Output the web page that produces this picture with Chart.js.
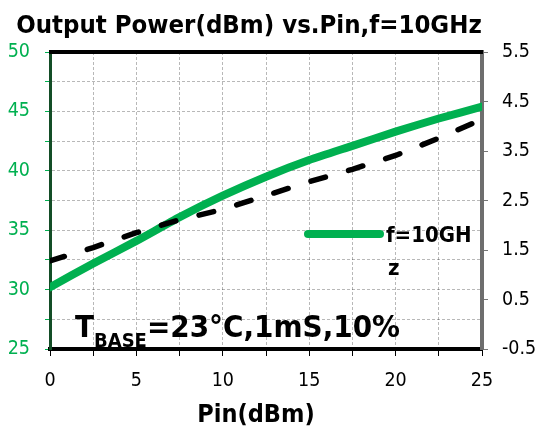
<!DOCTYPE html>
<html>
<head>
<meta charset="utf-8">
<script src="https://cdn.jsdelivr.net/npm/chart.js@4/dist/chart.umd.min.js"></script>
<style>
  html, body { margin: 0; padding: 0; background: #fff; }
</style>
</head>
<body>
<canvas id="chart" width="542" height="430"></canvas>
<script>
// data
const pin = [0, 2.5, 5, 7.5, 10, 12.5, 15, 17.5, 20, 22.5, 25];
const pout10GHz = [30.2, 32.2, 34.1, 36.1, 37.9, 39.5, 40.9, 42.1, 43.3, 44.4, 45.4];
const rightSeries = [1.28, 1.55, 1.85, 2.11, 2.32, 2.6, 2.88, 3.13, 3.41, 3.76, 4.14];

const xTickLabels = [0, 5, 10, 15, 20, 25];
const leftTickLabels = [25, 30, 35, 40, 45, 50];
const rightTickLabels = [-0.5, 0.5, 1.5, 2.5, 3.5, 4.5, 5.5];

const titleText = 'Output Power(dBm) vs.Pin,f=10GHz';
const xTitle = 'Pin(dBm)';
const seriesLabel = 'f=10GHz';

const FONT = '"DejaVu Sans Condensed", "DejaVu Sans", sans-serif';
const GREEN = '#00B050';
const GRID = 'rgba(0,0,0,0.28)';

// title, axis title, top frame, note and legend
const overlay = {
  id: 'overlay',
  afterDraw(chart) {
    const { ctx, chartArea: a } = chart;
    ctx.save();
    ctx.strokeStyle = '#000';
    ctx.lineWidth = 4;
    ctx.beginPath();
    ctx.moveTo(a.left - 1, a.top);
    ctx.lineTo(a.right + 1, a.top);
    ctx.stroke();

    ctx.fillStyle = '#000';
    ctx.textBaseline = 'alphabetic';
    ctx.textAlign = 'center';
    ctx.font = 'bold 25.5px ' + FONT;
    ctx.fillText(titleText, 249, 33);
    ctx.font = 'bold 25px ' + FONT;
    ctx.fillText(xTitle, 256, 422);

    // T_BASE note
    ctx.textAlign = 'left';
    let x = 75;
    ctx.font = 'bold 31px ' + FONT;
    ctx.fillText('T', x, 337);
    x += ctx.measureText('T').width;
    ctx.font = 'bold 20px ' + FONT;
    ctx.fillText('BASE', x, 347);
    x += ctx.measureText('BASE').width;
    ctx.font = 'bold 31px ' + FONT;
    ctx.fillText('=23°C,1mS,10%', x, 337);

    // legend (label wraps like the original)
    ctx.strokeStyle = GREEN;
    ctx.lineWidth = 8;
    ctx.lineCap = 'round';
    ctx.beginPath();
    ctx.moveTo(308, 234);
    ctx.lineTo(380, 234);
    ctx.stroke();
    ctx.font = 'bold 22px ' + FONT;
    ctx.fillText(seriesLabel.slice(0, 6), 386, 242);
    ctx.fillText(seriesLabel.slice(6), 388, 275);
    ctx.restore();
  }
};

new Chart(document.getElementById('chart'), {
  type: 'line',
  data: {
    labels: pin,
    datasets: [
      {
        label: 'right axis',
        data: rightSeries,
        yAxisID: 'y1',
        borderColor: '#000',
        borderWidth: 5.5,
        borderDash: [15, 24],
        borderCapStyle: 'round',
        pointRadius: 0,
        fill: false,
        order: 0
      },
      {
        label: seriesLabel,
        data: pout10GHz,
        yAxisID: 'y',
        borderColor: GREEN,
        borderWidth: 8,
        borderCapStyle: 'round',
        pointRadius: 0,
        tension: 0.2,
        fill: false,
        order: 1
      }
    ]
  },
  options: {
    responsive: false,
    animation: false,
    devicePixelRatio: 1,
    layout: { padding: { top: 52, left: 0, right: 0, bottom: 0 } },
    plugins: { legend: { display: false }, title: { display: false }, tooltip: { enabled: false } },
    scales: {
      x: {
        type: 'linear',
        position: 'bottom',
        min: 0, max: 25,
        afterFit: s => { s.height = 81; },
        afterBuildTicks: s => { s.ticks = pin.map(v => ({ value: v })); },
        ticks: {
          autoSkip: false,
          maxRotation: 0,
          padding: 13,
          color: '#000',
          font: { family: FONT, size: 19.5 },
          callback: v => xTickLabels.includes(v) ? String(v) : ''
        },
        grid: { color: GRID, lineWidth: 1, tickLength: 7, tickColor: '#000', tickWidth: 1 },
        border: { color: '#000', width: 4, dash: [3, 2] }
      },
      y: {
        position: 'left',
        min: 25, max: 50,
        afterFit: s => { s.width = 50; },
        ticks: {
          stepSize: 2.5,
          autoSkip: false,
          padding: 15,
          color: GREEN,
          font: { family: FONT, size: 19.5 },
          callback: v => leftTickLabels.includes(v) ? String(v) : ''
        },
        grid: { color: GRID, lineWidth: 1, tickLength: 5, tickColor: GREEN, tickWidth: 1 },
        border: { color: '#134d26', width: 3, dash: [3, 2] }
      },
      y1: {
        position: 'right',
        min: -0.5, max: 5.5,
        afterFit: s => { s.width = 60; },
        ticks: {
          stepSize: 1,
          autoSkip: false,
          padding: 14,
          color: '#000',
          font: { family: FONT, size: 19.5 },
          callback: v => rightTickLabels.includes(v) ? String(v) : ''
        },
        grid: { drawOnChartArea: false, tickLength: 6, tickColor: '#777', tickWidth: 1 },
        border: { color: '#6e6e6e', width: 4 }
      }
    }
  },
  plugins: [overlay]
});
</script>
</body>
</html>
